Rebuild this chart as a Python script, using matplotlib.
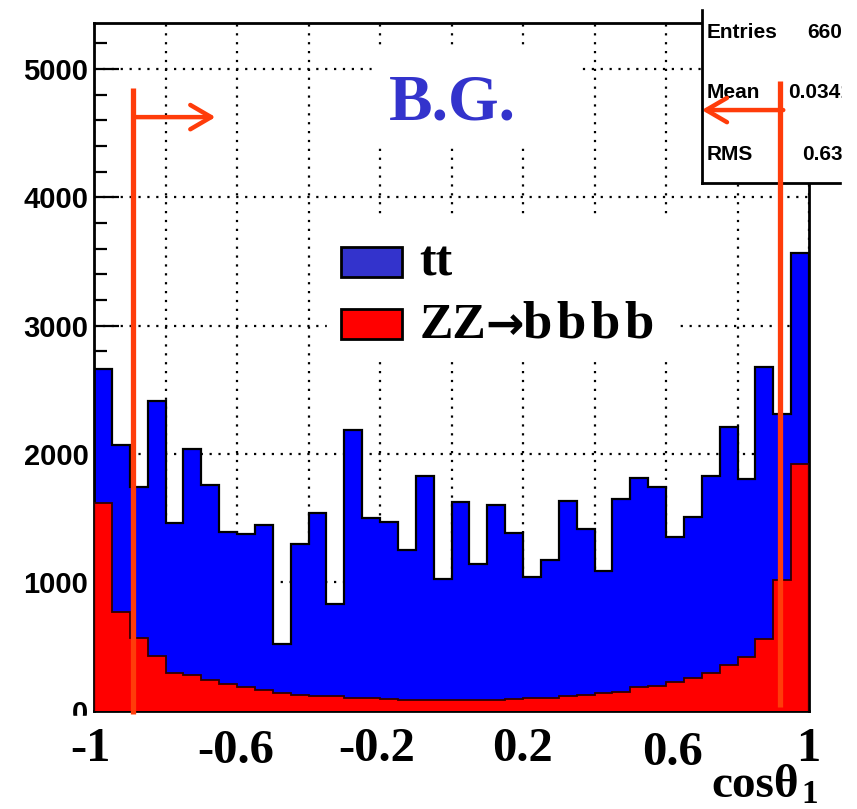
import matplotlib
matplotlib.use("Agg")
import matplotlib.pyplot as plt
import numpy as np
from matplotlib.patches import Rectangle

# ---- data: cos(theta_1) distribution, 40 bins on [-1, 1] ----
x_range = (-1.0, 1.0)
n_bins = 40
zz_counts = [1615, 770, 565, 425, 290, 275, 240, 205, 180, 160,
             140, 120, 115, 110, 100, 95, 90, 85, 82, 80,
             80, 82, 85, 90, 95, 100, 110, 120, 135, 145,
             180, 190, 225, 250, 290, 355, 420, 555, 1015, 1925]
tt_counts = [1050, 1300, 1180, 1990, 1175, 1760, 1520, 1190, 1195, 1285,
             380, 1180, 1425, 720, 2085, 1405, 1380, 1165, 1745, 945,
             1545, 1060, 1520, 1295, 945, 1075, 1525, 1295, 955, 1505,
             1630, 1550, 1130, 1260, 1540, 1855, 1385, 2120, 1295, 1640]
legend_tt = "tt"
legend_zz = ("ZZ", "\u2192", "bbbb")
big_tick_labels = ["-1", "-0.6", "-0.2", "0.2", "0.6", "1"]
stat_names = ["Entries", "Mean", "RMS"]
stat_values = ["6600", "0.0341", "0.634"]
cut_low, cut_high = -0.89, 0.92

W, H, DPI = 857, 809, 100
BLUE = "#0000ff"
RED = "#ff0000"
LEG_BLUE = "#3333cc"
CUT = "#ff3c0a"
SERIF = ["Liberation Serif", "DejaVu Serif"]
SANS = ["Liberation Sans", "DejaVu Sans"]


def fx(px):
    return px / W


def fy(py):
    return 1 - py / H


fig = plt.figure(figsize=(W / DPI, H / DPI), dpi=DPI)
fig.patch.set_facecolor("white")
FT = fig.transFigure

y0_px, ytop_px = 710.5, 23
px_per_count = 128.3 / 1000
ax = fig.add_axes([fx(94), fy(y0_px), fx(809) - fx(94), (y0_px - ytop_px) / H])
ax.set_xlim(*x_range)
ax.set_ylim(0, (y0_px - ytop_px) / px_per_count)

edges = np.linspace(x_range[0], x_range[1], n_bins + 1)
zz = np.array(zz_counts, dtype=float)
total = zz + np.array(tt_counts, dtype=float)

# stacked histogram: tt on top of ZZ
ax.stairs(total, edges, fill=True, color=BLUE, zorder=2)
ax.stairs(zz, edges, fill=True, color=RED, zorder=3)
ax.stairs(total, edges, color="black", lw=1.6, zorder=4)
ax.stairs(zz, edges, color="#300000", lw=1.3, zorder=4)

# axes, ticks, grid
ax.set_xticks(np.round(np.arange(-1, 1.01, 0.2), 1))
ax.set_xticklabels([])
ax.tick_params(axis="x", length=0)
ax.set_yticks(np.arange(0, 5001, 1000))
ax.set_yticks(np.arange(0, 5400, 200), minor=True)
ax.set_yticklabels([str(v) for v in range(0, 5001, 1000)],
                   fontsize=21, fontweight="bold", family=SANS)
ax.tick_params(axis="y", which="major", direction="in", length=18, width=1.6, pad=4)
ax.tick_params(axis="y", which="minor", direction="in", length=9, width=1.6)
ax.grid(True, which="major", ls=(0, (1, 3)), color="black", lw=1.6, zorder=1)
ax.set_axisbelow(True)
for s in ax.spines.values():
    s.set_linewidth(2)

# statistics box (drawn inside the axes so the cut markers sit on top)
ax.add_patch(Rectangle((fx(702), fy(183)), fx(860) - fx(702), 183 / H + 0.01,
                       transform=FT, facecolor="white", edgecolor="none",
                       clip_on=False, zorder=5))
ax.plot([fx(702), fx(702)], [fy(8), fy(183)], transform=FT, color="black",
        lw=2, clip_on=False, zorder=5.2)
ax.plot([fx(702), fx(860)], [fy(183), fy(183)], transform=FT, color="black",
        lw=2, clip_on=False, zorder=5.2)
for name, val, yc, xv in zip(stat_names, stat_values, [32, 93, 154], [807, 788, 802]):
    ax.text(fx(707), fy(yc), name, fontsize=15, fontweight="bold", family=SANS,
            ha="left", va="center", transform=FT, zorder=5.5)
    ax.text(fx(xv), fy(yc), val, fontsize=15, fontweight="bold", family=SANS,
            ha="left", va="center", transform=FT, zorder=5.5)

# cut lines with arrows
ax.plot([cut_low, cut_low], [-27, 4852], color=CUT, lw=3.8, clip_on=False,
        zorder=6, solid_capstyle="butt")
ax.plot([cut_high, cut_high], [25, 4906], color=CUT, lw=3.8, clip_on=False,
        zorder=6, solid_capstyle="butt")
arrow_kw = dict(arrowstyle="->,head_length=0.6,head_width=0.35", lw=3.2,
                color=CUT, mutation_scale=25, shrinkA=0, shrinkB=0)
ax.annotate("", xy=(-0.66, 4625), xytext=(cut_low, 4625),
            arrowprops=arrow_kw, annotation_clip=False, zorder=7)
ax.annotate("", xy=(0.70, 4680), xytext=(cut_high + 0.008, 4680),
            arrowprops=arrow_kw, annotation_clip=False, zorder=7)

# white panels behind the title and the legend
fig.patches.append(Rectangle((fx(372), fy(146)), fx(580) - fx(372), (146 - 47) / H,
                             transform=FT, color="white", zorder=3))
fig.patches.append(Rectangle((fx(327), fy(360)), fx(677) - fx(327), (360 - 215) / H,
                             transform=FT, color="white", zorder=3))

fig.text(fx(452), fy(120), "B.G.", color=LEG_BLUE, fontsize=47,
         fontweight="bold", family=SERIF, ha="center", va="baseline", zorder=4)

# legend
for (top, bot), color in [((247, 277), LEG_BLUE), ((309, 339), RED)]:
    fig.patches.append(Rectangle((fx(341), fy(bot)), fx(402) - fx(341), (bot - top) / H,
                                 transform=FT, facecolor=color,
                                 edgecolor="black", lw=2, zorder=4))
fig.text(fx(419), fy(275), legend_tt, fontsize=36, fontweight="bold",
         family=SERIF, ha="left", va="baseline", zorder=4)
fig.text(fx(420), fy(338), legend_zz[0], fontsize=36, fontweight="bold",
         family=SERIF, ha="left", va="baseline", zorder=4)
fig.text(fx(485), fy(339), legend_zz[1], fontsize=33, fontweight="bold",
         family=["DejaVu Sans"], ha="left", va="baseline", zorder=4)
for i, ch in enumerate(legend_zz[2]):
    fig.text(fx(522 + 34 * i), fy(338), ch, fontsize=38, fontweight="bold",
             family=SERIF, ha="left", va="baseline", zorder=4)

# edge strips
fig.patches.append(Rectangle((fx(842), fy(200)), fx(857) - fx(842) + 0.01, 200 / H,
                             transform=FT, color="white", zorder=6))
fig.patches.append(Rectangle((0, fy(8)), 1, 8 / H + 0.01,
                             transform=FT, color="white", zorder=6))
fig.patches.append(Rectangle((0, 0), 1, fy(716), transform=FT,
                             color="white", zorder=5))

# large axis labels
for lab, xc, base in zip(big_tick_labels, [90, 236, 377, 523, 672, 808],
                         [761, 763, 761, 761, 765, 761]):
    fig.text(fx(xc), fy(base), lab, fontsize=35, fontweight="bold", family=SERIF,
             ha="center", va="baseline", zorder=6)
fig.text(fx(711), fy(797), "cos\u03b8", fontsize=34, fontweight="bold", family=SERIF,
         ha="left", va="baseline", zorder=6)
fig.text(fx(801), fy(803), "1", fontsize=24, fontweight="bold", family=SERIF,
         ha="left", va="baseline", zorder=6)

fig.savefig("out.png", dpi=DPI, facecolor="white")
